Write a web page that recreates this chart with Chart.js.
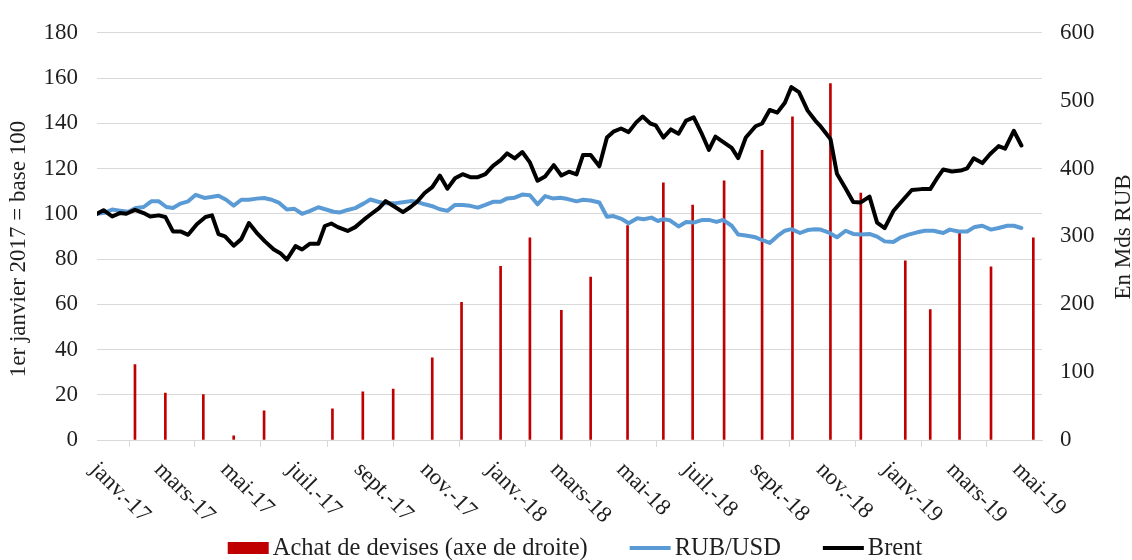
<!DOCTYPE html>
<html><head><meta charset="utf-8">
<script src="https://cdn.jsdelivr.net/npm/chart.js@4.4.1/dist/chart.umd.min.js"></script>
<style>html,body{margin:0;padding:0;background:#fff}#wrap{width:1132px;height:560px}</style>
</head><body><div id="wrap"><canvas id="c" width="1132" height="560"></canvas></div>
<script>
// x positions are days since 1 Jan 2017
const tickDays = [0,59,120,181,243,304,365,424,485,546,608,669,730,789,850];
const tickLabels = ['janv.-17','mars-17','mai-17','juil.-17','sept.-17','nov.-17','janv.-18','mars-18','mai-18','juil.-18','sept.-18','nov.-18','janv.-19','mars-19','mai-19'];

const barDays = [35,63,98,126,154,217,245,273,309,336,372,399,428,455,489,522,549,578,613,641,676,704,745,768,795,824,863];
const barValues = [111,69,67,6,43,46,71,75,121,203,256,298,191,240,316,379,346,382,427,476,525,364,264,192,305,255,298];

const rubDays = [0,7,14,21,29,36,43,50,57,64,70,77,84,91,99,105,112,119,126,133,140,147,154,161,168,175,182,189,196,204,211,218,224,231,238,246,252,259,266,274,282,289,295,302,310,316,323,330,337,344,351,358,365,372,378,385,392,399,406,413,420,427,434,442,448,455,463,470,476,484,490,498,504,511,517,522,528,536,543,550,558,564,571,577,585,591,598,607,614,620,627,634,640,648,655,662,667,674,682,690,697,704,712,719,726,734,741,748,756,763,771,780,786,794,802,809,816,824,831,839,845,852];
const rubValues = [100,100.4,101.9,101.4,100.9,102.6,103,105.5,105.5,103,102.6,104.5,105.5,108.4,107,107.4,108,106.2,103.6,106.2,106.2,106.7,107,106.2,104.8,101.9,102.2,100,101.2,102.9,101.9,100.9,100.6,101.7,102.5,104.6,106.3,105.3,104.6,104.6,105.1,105.6,105.3,104.2,103.2,102,101.3,103.9,103.9,103.5,102.7,103.9,105.3,105.3,106.8,107.1,108.5,108.2,104.2,107.8,106.8,107.1,106.5,105.5,106.2,105.9,105,98.7,99,97.6,95.8,98,97.6,98.3,96.8,97.6,97.1,94.4,96.4,96.1,97.3,97.3,96.4,97.3,94.7,90.8,90.4,89.6,88.2,87.1,90.1,92.5,93.2,91.5,92.8,93.2,93,91.8,89.6,92.5,91.1,90.8,91.1,89.9,87.8,87.5,89.6,90.8,91.8,92.5,92.5,91.5,93,92.2,92.2,94.2,94.7,93,93.7,94.7,94.7,93.7];

const brentDays = [0,6,14,21,27,35,43,49,57,63,70,77,84,92,100,106,112,118,126,133,140,147,155,163,169,175,183,189,196,204,210,216,222,231,238,246,253,260,266,274,282,289,295,302,309,316,323,330,337,344,351,358,365,372,378,385,392,399,406,413,421,428,435,442,448,455,463,470,476,483,490,497,503,510,515,522,529,536,543,550,557,564,570,577,585,591,598,607,613,620,627,634,640,647,655,662,667,676,682,690,697,704,712,719,726,734,743,751,760,768,774,780,788,796,802,808,816,823,831,837,845,852];
const brentValues = [100,101.6,98.8,100.3,100,101.7,100.3,98.8,99.3,98.6,92.2,92.2,90.7,95.4,98.6,99.3,91,90,85.9,88.8,95.9,91.7,87.7,84.2,82.6,79.7,85.7,84.2,86.7,86.7,94.6,95.7,94.1,92.4,94.1,97.4,100,102.5,105.6,103.2,100.7,103,105.3,109.2,111.8,116.9,111.1,115.7,117.5,116.2,116.2,117.5,121.2,123.7,126.7,124.5,127.3,122.7,114.6,116.5,121.5,116.9,118.6,117.4,126,126,121,133.7,136.3,137.7,136.1,140.4,143,139.9,139.1,133.7,137.3,135.4,141.2,142.6,135.8,128.2,134.1,131.8,129.1,124.6,133.7,138.7,139.9,145.9,144.7,149.1,156,153.8,145.6,141.2,138.6,133.1,117.7,111.2,105.2,105,107.6,96.1,93.7,101.2,106.2,110.5,110.9,110.9,115.5,119.6,118.7,119.1,120.1,124.5,122.4,126.3,129.9,128.8,136.7,130.2];

const seriesNames = ['Achat de devises (axe de droite)', 'RUB/USD', 'Brent'];
const leftTitle = '1er janvier 2017 = base 100';
const rightTitle = 'En Mds RUB';

const FONT = "'Liberation Serif', 'Times New Roman', serif";
const TXT = '#1f1f1f';
const GRID = '#d9d9d9';

function pts(xs, ys) { return xs.map((x, i) => ({ x: x, y: ys[i] })); }

const extras = {
  id: 'extras',
  afterDraw(chart) {
    const ctx = chart.ctx, xs = chart.scales.x, a = chart.chartArea;
    ctx.save();
    ctx.fillStyle = TXT;
    ctx.font = '23px ' + FONT;
    // rotated x tick labels (clockwise 45deg, starting at the tick)
    ctx.textAlign = 'left'; ctx.textBaseline = 'top';
    tickDays.forEach((d, i) => {
      const px = xs.getPixelForValue(d);
      ctx.save();
      ctx.translate(px + 5, a.bottom + 18);
      ctx.rotate(Math.PI / 4);
      ctx.fillText(tickLabels[i], 0, 0);
      ctx.restore();
    });
    // axis titles (both read bottom-to-top)
    ctx.textAlign = 'center'; ctx.textBaseline = 'middle';
    ctx.save(); ctx.translate(19, 249); ctx.rotate(-Math.PI / 2); ctx.fillText(leftTitle, 0, 0); ctx.restore();
    ctx.save(); ctx.translate(chart.width - 8, 237); ctx.rotate(-Math.PI / 2); ctx.fillText(rightTitle, 0, 0); ctx.restore();
    // legend
    const ds = chart.data.datasets;
    ctx.font = '24.5px ' + FONT;
    ctx.textAlign = 'left';
    const symW = 41, gap = 4, sep = 42, cy = 548;
    let total = 0;
    ds.forEach((d, i) => { total += symW + gap + ctx.measureText(d.label).width + (i ? sep : 0); });
    let x = 575 - total / 2;
    ds.forEach((d, i) => {
      if (d.type === 'bar') {
        ctx.fillStyle = d.backgroundColor;
        ctx.fillRect(x, cy - 6, symW, 12);
      } else {
        ctx.strokeStyle = d.borderColor; ctx.lineWidth = 4;
        ctx.beginPath(); ctx.moveTo(x, cy); ctx.lineTo(x + symW, cy); ctx.stroke();
      }
      ctx.fillStyle = TXT;
      ctx.fillText(d.label, x + symW + gap, cy + 1);
      x += symW + gap + ctx.measureText(d.label).width + sep;
    });
    ctx.restore();
  }
};

new Chart(document.getElementById('c'), {
  type: 'line',
  data: {
    datasets: [
      { type: 'bar', label: seriesNames[0], data: pts(barDays, barValues), yAxisID: 'y2',
        backgroundColor: '#c00000', borderWidth: 0, barThickness: 2, order: 3 },
      { type: 'line', label: seriesNames[1], data: pts(rubDays, rubValues), yAxisID: 'y',
        borderColor: '#5b9bd5', backgroundColor: '#5b9bd5', borderWidth: 4, pointRadius: 0,
        tension: 0, borderJoinStyle: 'round', borderCapStyle: 'round', order: 2 },
      { type: 'line', label: seriesNames[2], data: pts(brentDays, brentValues), yAxisID: 'y',
        borderColor: '#000000', backgroundColor: '#000000', borderWidth: 4, pointRadius: 0,
        tension: 0, borderJoinStyle: 'round', borderCapStyle: 'round', order: 1 }
    ]
  },
  options: {
    responsive: false,
    animation: false,
    devicePixelRatio: 1,
    layout: { padding: { top: 24, left: 0, right: 0, bottom: 0 } },
    plugins: { legend: { display: false }, tooltip: { enabled: false }, title: { display: false } },
    scales: {
      x: {
        type: 'linear', min: 0, max: 871, offset: false,
        afterBuildTicks(s) { s.ticks = tickDays.map(v => ({ value: v })); },
        ticks: { display: false },
        grid: { drawOnChartArea: false, drawTicks: true, tickLength: 7, color: GRID, lineWidth: 1 },
        border: { display: true, color: GRID, width: 1 },
        afterFit(s) { s.height = 120; }
      },
      y: {
        position: 'left', min: 0, max: 180,
        ticks: { stepSize: 20, padding: 19, color: TXT, font: { family: FONT, size: 23 } },
        grid: { color: GRID, lineWidth: 1, drawTicks: false },
        border: { display: false },
        afterFit(s) { s.width = 97; }
      },
      y2: {
        position: 'right', min: 0, max: 600,
        ticks: { stepSize: 100, padding: 18, color: TXT, font: { family: FONT, size: 23 } },
        grid: { drawOnChartArea: false, drawTicks: false },
        border: { display: false },
        afterFit(s) { s.width = 90; }
      }
    }
  },
  plugins: [extras]
});
</script>
</body></html>
